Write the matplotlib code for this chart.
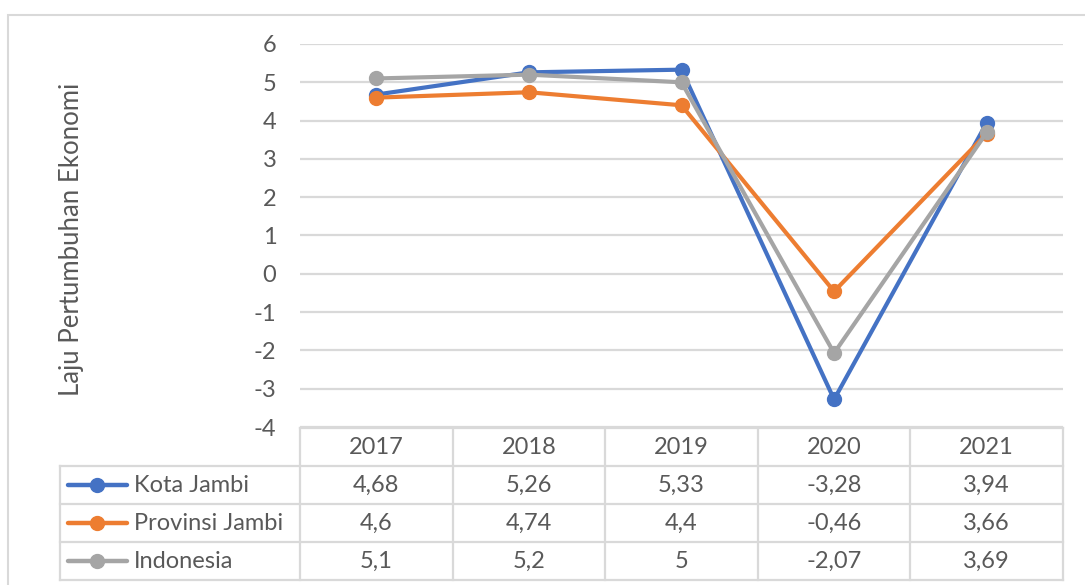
import matplotlib
matplotlib.use('Agg')
import matplotlib.pyplot as plt
from matplotlib.lines import Line2D
from matplotlib.patches import Rectangle
import matplotlib.transforms as mtrans

plt.rcParams['font.family'] = ['Lato', 'DejaVu Sans']
plt.rcParams['axes.unicode_minus'] = False

years = ['2017', '2018', '2019', '2020', '2021']
kota_jambi = [4.68, 5.26, 5.33, -3.28, 3.94]
provinsi_jambi = [4.6, 4.74, 4.4, -0.46, 3.66]
indonesia = [5.1, 5.2, 5.0, -2.07, 3.69]
series_names = ['Kota Jambi', 'Provinsi Jambi', 'Indonesia']
series_values = [kota_jambi, provinsi_jambi, indonesia]
colors = ['#4472C4', '#ED7D31', '#A5A5A5']
y_ticks = [-4, -3, -2, -1, 0, 1, 2, 3, 4, 5, 6]
y_label = 'Laju Pertumbuhan Ekonomi'

W, H = 1085, 585
fig = plt.figure(figsize=(W / 100, H / 100), dpi=100)


def fx(x):
    return x / W


def fy(y):
    return 1 - y / H


txt = '#595959'
grid = '#D9D9D9'
fs = 17

# outer chart border
fig.add_artist(Rectangle((fx(8), fy(600)), fx(1100) - fx(8), fy(15) - fy(600),
                         transform=fig.transFigure, fill=False, edgecolor=grid, lw=1.5))

ax = fig.add_axes([fx(300), fy(427), fx(1063) - fx(300), fy(44) - fy(427)])
x = list(range(len(years)))
for vals, c, n in zip(series_values, colors, series_names):
    ax.plot(x, vals, color=c, lw=3, marker='o', markersize=10, label=n,
            solid_capstyle='round', zorder=3)
ax.set_xlim(-0.5, len(years) - 0.5)
ax.set_ylim(min(y_ticks), max(y_ticks))
ax.set_yticks(y_ticks)
ax.set_yticklabels([str(t) for t in y_ticks])
ax.set_xticks([])
ax.tick_params(axis='y', length=0, pad=17, labelsize=fs, labelcolor=txt)
for s in ax.spines.values():
    s.set_visible(False)
ax.grid(axis='y', color=grid, lw=1.6, zorder=0)
ax.set_facecolor('none')

fig.text(fx(72), fy(239), y_label, rotation=90, ha='center', va='center',
         fontsize=18.5, color=txt)

# data table
bt = mtrans.blended_transform_factory(ax.transData, fig.transFigure)
row_edges = [428, 466, 504, 542, 580]
lw_t = 1.6
n = len(years)
# horizontal lines
fig.add_artist(Line2D([-0.5, n - 0.5], [fy(row_edges[0])] * 2, transform=bt,
                      color=grid, lw=lw_t))
for ye in row_edges[1:]:
    fig.add_artist(Line2D([fx(60), fx(1063)], [fy(ye)] * 2, transform=fig.transFigure,
                          color=grid, lw=lw_t))
# vertical lines
for i in range(n + 1):
    fig.add_artist(Line2D([i - 0.5, i - 0.5], [fy(row_edges[0]), fy(row_edges[-1])],
                          transform=bt, color=grid, lw=lw_t))
fig.add_artist(Line2D([fx(60), fx(60)], [fy(row_edges[1]), fy(row_edges[-1])],
                      transform=fig.transFigure, color=grid, lw=lw_t))

# header
yc = [(row_edges[k] + row_edges[k + 1]) / 2 for k in range(len(row_edges) - 1)]
for i, yr in enumerate(years):
    fig.text(i, fy(yc[0]), yr, transform=bt, ha='center', va='center', fontsize=fs, color=txt)


def fmt(v):
    return f'{v:g}'.replace('.', ',')


for r, (vals, c, nm) in enumerate(zip(series_values, colors, series_names)):
    yy = fy(yc[r + 1])
    fig.add_artist(Line2D([fx(68), fx(127)], [yy, yy], transform=fig.transFigure,
                          color=c, lw=3.2, solid_capstyle='round'))
    fig.add_artist(Line2D([fx(97)], [yy], transform=fig.transFigure, color=c,
                          marker='o', markersize=10))
    fig.text(fx(134), yy, nm, ha='left', va='center', fontsize=fs, color=txt)
    for i, v in enumerate(vals):
        fig.text(i, yy, fmt(v), transform=bt, ha='center', va='center',
                 fontsize=fs, color=txt)

fig.savefig('out.png', dpi=100)
